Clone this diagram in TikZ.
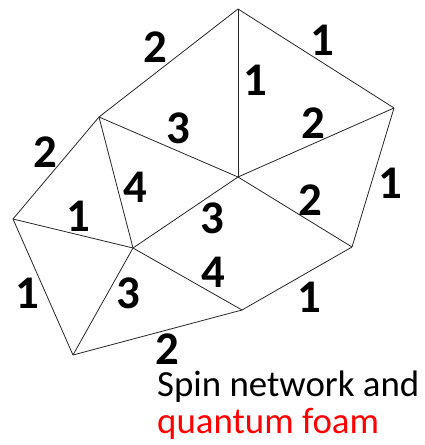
\documentclass[tikz,border=0pt]{standalone}
\usepackage{fontspec}
\setmainfont{Carlito}
\usetikzlibrary{positioning}

\begin{document}
\begin{tikzpicture}[
    x=1bp, y=-1bp,
    link/.style={line width=0.8bp, draw=black!85},
    spin/.style={inner sep=0pt, font=\fontsize{47}{47}\selectfont\bfseries},
    caption/.style={inner sep=0pt, anchor=base west,
                    font=\fontsize{37}{37}\selectfont},
]
\useasboundingbox (0,0) rectangle (424,445);

% vertices of the triangulation
\coordinate (top)  at (238,9);
\coordinate (ul)   at (99,117);
\coordinate (ru)   at (394,108);
\coordinate (mid)  at (238,177);
\coordinate (lft)  at (13,219);
\coordinate (il)   at (133,248);
\coordinate (rl)   at (352,247);
\coordinate (bm)   at (242,310);
\coordinate (bl)   at (73,355);

% links
\draw[link] (top) -- (ul);
\draw[link] (top) -- (ru);
\draw[link] (top) -- (mid);
\draw[link] (ul) -- (mid);
\draw[link] (mid) -- (ru);
\draw[link] (ru) -- (rl);
\draw[link] (mid) -- (rl);
\draw[link] (ul) -- (lft);
\draw[link] (ul) -- (il);
\draw[link] (lft) -- (il);
\draw[link] (il) -- (mid);
\draw[link] (lft) -- (bl);
\draw[link] (il) -- (bl);
\draw[link] (il) -- (bm);
\draw[link] (bl) -- (bm);
\draw[link] (bm) -- (rl);

% spin labels
\node[spin] (s1)  at (155,47)  {2};
\node[spin] (s2)  at (322,40)  {1};
\node[spin] (s3)  at (255,80)  {1};
\node[spin] (s4)  at (178,128) {3};
\node[spin] (s5)  at (313,123) {2};
\node[spin] (s6)  at (45,152)  {2};
\node[spin] (s7)  at (135,187) {4};
\node[spin] (s8)  at (390,183) {1};
\node[spin] (s9)  at (310,200) {2};
\node[spin] (s10) at (78,216)  {1};
\node[spin] (s11) at (212,218) {3};
\node[spin] (s12) at (213,272) {4};
\node[spin] (s13) at (27,293)  {1};
\node[spin] (s14) at (128,293) {3};
\node[spin] (s15) at (309,297) {1};
\node[spin] (s16) at (167,349) {2};

% caption
\node[caption] (cap1) at (157,396) {Spin network and};
\node[caption, text=red] (cap2) at (157,433) {quantum foam};

\end{tikzpicture}
\end{document}
